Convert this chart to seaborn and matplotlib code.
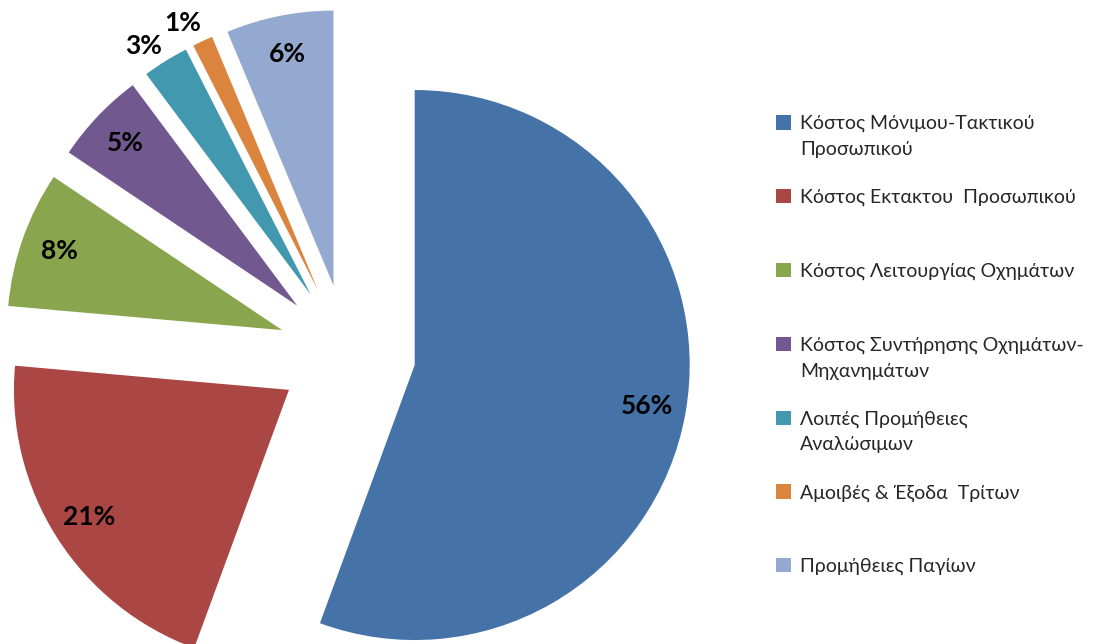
import numpy as np
import matplotlib
matplotlib.use("Agg")
import matplotlib.pyplot as plt
import matplotlib.patches as mpatches
from matplotlib.legend_handler import HandlerPatch
import seaborn as sns

# cost shares (%)
categories = [
    "Κόστος Μόνιμου-Τακτικού\nΠροσωπικού",
    "Κόστος Εκτακτου  Προσωπικού\n ",
    "Κόστος Λειτουργίας Οχημάτων\n ",
    "Κόστος Συντήρησης Οχημάτων-\nΜηχανημάτων",
    "Λοιπές Προμήθειες\nΑναλώσιμων",
    "Αμοιβές & Έξοδα  Τρίτων\n ",
    "Προμήθειες Παγίων\n ",
]
shares = [55.6, 20.8, 8.0, 5.4, 2.7, 1.2, 6.3]
colors = ["#4572A7", "#AA4643", "#89A54E", "#71588F", "#4198AF", "#DB843D", "#93A9CF"]

sns.set_theme(style="white")
plt.rcParams['font.family'] = ['Lato', 'DejaVu Sans']

fig = plt.figure(figsize=(11.17, 6.44), dpi=100)
ax = fig.add_axes([0, 0, 1, 1])

wedges, texts, autotexts = ax.pie(
    shares, colors=sns.color_palette(colors), startangle=90, counterclock=False,
    explode=[0.25] * len(shares), autopct='%1.0f%%', pctdistance=0.86,
    wedgeprops=dict(linewidth=0),
    textprops=dict(fontsize=19, fontweight='bold', color='black'))

# small slices get their label outside
for w, t, v in zip(wedges, autotexts, shares):
    if v < 4:
        ang = np.deg2rad((w.theta1 + w.theta2) / 2 + 2)
        cx, cy = w.center
        t.set_position((cx + 1.09 * np.cos(ang), cy + 1.09 * np.sin(ang)))

ax.set_aspect('auto')
ax.set_xlim(-347 / 275, (1117 - 347) / 275)
ax.set_ylim(-(644 - 353) / 275, 353 / 275)
ax.axis('off')


def square_up(legend, orig_handle, xdescent, ydescent, width, height, fontsize):
    return mpatches.Rectangle((-xdescent, -ydescent + 0.74 * fontsize), width, height)


leg = fig.legend(wedges, categories, loc='upper left', bbox_to_anchor=(776 / 1117, 1 - 115 / 644),
                 frameon=False, fontsize=14, handlelength=0.75, handleheight=0.75,
                 handletextpad=0.5, labelspacing=1.58, borderpad=0, borderaxespad=0,
                 handler_map={mpatches.Wedge: HandlerPatch(patch_func=square_up)})
for t in leg.get_texts():
    t.set_linespacing(1.62)

fig.savefig("out.png", dpi=100)
